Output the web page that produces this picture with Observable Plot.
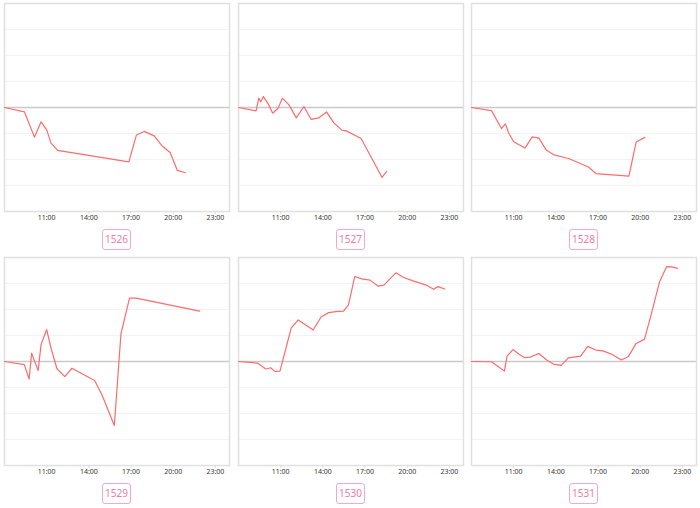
<!DOCTYPE html>
<html>
<head>
<meta charset="utf-8">
<script src="https://cdn.jsdelivr.net/npm/d3@7"></script>
<script src="https://cdn.jsdelivr.net/npm/@observablehq/plot@0.6"></script>
<style>
  html, body { margin: 0; padding: 0; background: #fff; width: 700px; height: 508px; overflow: hidden; }
  #wrap { position: relative; width: 700px; height: 508px; }
  .cell { position: absolute; width: 233px; height: 254px; }
  .cell svg { display: block; }
  .tag { margin: 0 auto; width: 27px; height: 19px; border: 1px solid #f7a9c2; border-radius: 3px;
         color: #f27ba0; font: 10px "Noto Sans", "DejaVu Sans", sans-serif; line-height: 19px; text-align: center; }
</style>
</head>
<body>
<div id="wrap"></div>
<script>
// Panel identifiers
const ids = ["1526", "1527", "1528", "1529", "1530", "1531"];

// X tick labels (hour of day)
const tickHours = [11, 14, 17, 20, 23];
const tickLabels = ["11:00", "14:00", "17:00", "20:00", "23:00"];

// Series: hour of day and relative change
const hours1526 = [8, 9.42, 10.13, 10.6, 11.0, 11.31, 11.78, 16.84, 17.38, 17.94, 18.65, 19.19, 19.78, 20.29, 20.86];
const vals1526  = [0, -0.17, -1.14, -0.55, -0.86, -1.37, -1.65, -2.09, -1.06, -0.92, -1.09, -1.47, -1.73, -2.42, -2.51];

const hours1527 = [8, 9.25, 9.44, 9.58, 9.77, 10.1, 10.43, 10.81, 11.12, 11.59, 12.11, 12.65, 13.17, 13.7, 14.26, 14.78, 15.35, 15.66, 16.72, 18.21, 18.54];
const vals1527  = [0, -0.13, 0.36, 0.22, 0.42, 0.15, -0.22, -0.03, 0.36, 0.1, -0.4, 0.04, -0.46, -0.4, -0.17, -0.59, -0.87, -0.9, -1.19, -2.69, -2.46];

const hours1528 = [8, 9.42, 10.13, 10.41, 10.65, 11.0, 11.8, 12.32, 12.79, 13.31, 13.82, 14.95, 16.32, 16.84, 19.19, 19.71, 20.32];
const vals1528  = [0, -0.12, -0.81, -0.63, -0.99, -1.32, -1.56, -1.13, -1.18, -1.63, -1.81, -1.97, -2.29, -2.54, -2.64, -1.33, -1.15];

const hours1529 = [8, 9.41, 9.75, 9.93, 10.39, 10.6, 11.0, 11.31, 11.73, 12.29, 12.79, 14.41, 14.95, 15.81, 16.28, 16.89, 17.36, 21.88];
const vals1529  = [0, -0.12, -0.68, 0.32, -0.35, 0.65, 1.23, 0.51, -0.28, -0.58, -0.26, -0.73, -1.31, -2.46, 1.06, 2.44, 2.44, 1.94];

const hours1530 = [8, 9.35, 9.94, 10.29, 10.58, 10.95, 11.75, 12.25, 13.31, 13.87, 14.41, 14.93, 15.47, 15.82, 16.27, 16.76, 17.35, 17.92, 18.34, 19.19, 19.71, 20.41, 21.35, 21.87, 22.18, 22.67];
const vals1530  = [0, -0.06, -0.29, -0.24, -0.38, -0.37, 1.29, 1.6, 1.21, 1.71, 1.88, 1.92, 1.94, 2.18, 3.27, 3.18, 3.13, 2.9, 2.94, 3.41, 3.24, 3.1, 2.94, 2.78, 2.88, 2.79];

const hours1531 = [8, 9.42, 9.89, 10.34, 10.53, 10.95, 11.38, 11.75, 12.18, 12.79, 13.35, 13.82, 14.38, 14.89, 15.76, 16.27, 16.84, 17.35, 18.01, 18.65, 19.14, 19.69, 20.3, 20.73, 21.38, 21.88, 22.24, 22.64];
const vals1531  = [0, -0.01, -0.19, -0.37, 0.21, 0.46, 0.28, 0.15, 0.17, 0.31, 0.06, -0.1, -0.15, 0.14, 0.21, 0.58, 0.44, 0.41, 0.27, 0.06, 0.18, 0.68, 0.86, 1.71, 3.08, 3.65, 3.64, 3.58];

// Y grid levels
const gridLevels = [-3, -2, -1, 1, 2, 3];

const series = [
  [hours1526, vals1526], [hours1527, vals1527], [hours1528, vals1528],
  [hours1529, vals1529], [hours1530, vals1530], [hours1531, vals1531]
];

const lefts = [0, 234, 467];
const tops = [0, 254];
const wrap = document.getElementById("wrap");

series.forEach(([hs, vs], i) => {
  const data = hs.map((h, j) => ({hour: h, value: vs[j]}));
  const cell = document.createElement("div");
  cell.className = "cell";
  cell.style.left = lefts[i % 3] + "px";
  cell.style.top = tops[Math.floor(i / 3)] + "px";

  const chart = Plot.plot({
    width: 233,
    height: 229,
    marginTop: 3,
    marginLeft: 4,
    marginRight: 4,
    marginBottom: 18,
    style: {fontFamily: "'Noto Sans', 'DejaVu Sans', sans-serif", fontSize: "7px", color: "#333", background: "#fff"},
    x: {domain: [8, 24]},
    y: {domain: [-4, 4], axis: null},
    marks: [
      Plot.ruleY(gridLevels, {stroke: "#f3f3f3", strokeWidth: 1}),
      Plot.ruleY([0], {stroke: "#c9c9c9", strokeWidth: 1.5}),
      Plot.frame({stroke: "#e0e0e0", strokeWidth: 1.5}),
      Plot.lineY(data, {x: "hour", y: "value", stroke: "#ff6b6b", strokeWidth: 1.2}),
      Plot.axisX(tickHours, {tickSize: 3, tickPadding: 1, stroke: "#ddd", fill: "#333", label: null,
        tickFormat: (d) => tickLabels[tickHours.indexOf(d)], fontSize: 7})
    ]
  });
  cell.appendChild(chart);

  const tag = document.createElement("div");
  tag.className = "tag";
  tag.textContent = ids[i];
  cell.appendChild(tag);
  wrap.appendChild(cell);
});
</script>
</body>
</html>
